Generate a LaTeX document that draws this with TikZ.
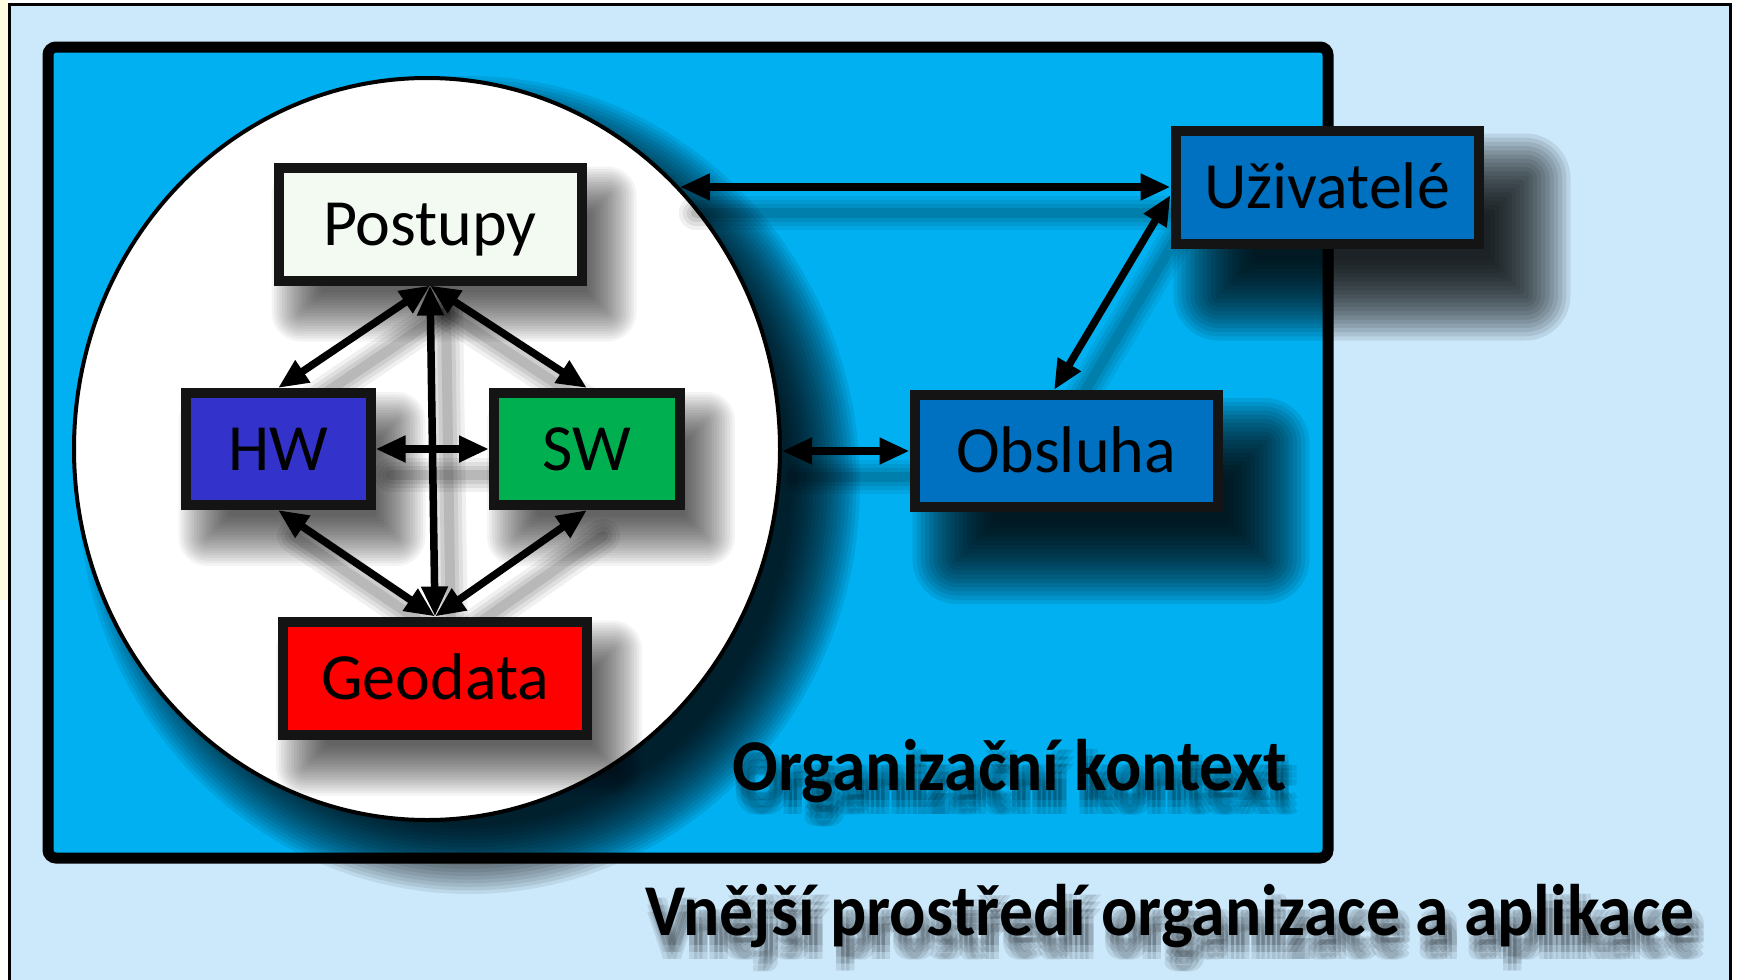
\documentclass[tikz,border=0pt]{standalone}
\usepackage{fontspec}
\setmainfont{Carlito}
\usetikzlibrary{arrows.meta,shapes.geometric,calc}
\definecolor{outerbg}{HTML}{CCE9FB}
\definecolor{ctxblue}{HTML}{00B0F0}
\definecolor{darkblue}{HTML}{0070C0}
\definecolor{hwblue}{HTML}{3333CC}
\definecolor{swgreen}{HTML}{00B050}
\definecolor{geored}{HTML}{FF0000}
\definecolor{postfill}{HTML}{F2FAF2}
\pgfdeclarelayer{bglayer}
\pgfdeclarelayer{ellshadow}
\pgfdeclarelayer{elllayer}
\pgfdeclarelayer{boxshadow}
\pgfsetlayers{bglayer,ellshadow,elllayer,boxshadow,main}
% soft shadow of a rectangular node: #1 node, #2 dx, #3 dy (down), #4 blur radius, #5 opacity per layer
\newcommand\myboxshade[5]{%
  \foreach \k in {0,...,19} {
    \pgfmathsetmacro\gg{#4*(1-\k/10)}
    \pgfmathsetmacro\xa{#2-\gg}
    \pgfmathsetmacro\ya{#3+\gg}
    \pgfmathsetmacro\xb{#2+\gg}
    \pgfmathsetmacro\yb{#3-\gg}
    \pgfmathsetmacro\rc{max(\gg,0)+3}
    \fill[black, opacity=#5, rounded corners=\rc pt] ($(#1.south west)+(\xa,\ya)$) rectangle ($(#1.north east)+(\xb,\yb)$);
  }%
}
% soft shadow of a connector
\newcommand\myarrowshade[2]{%
  \foreach \w/\o in {34/0.06,26/0.07,18/0.08,10/0.1} {
    \draw[black, line width=\w pt, opacity=\o, line cap=round, transform canvas={shift={(16pt,-26pt)}}] (#1) -- (#2);
  }%
}
\begin{document}
\begin{tikzpicture}[x=1pt,y=-1pt,
  box/.style={draw=black!92, line width=10pt, inner sep=0pt, text=black,
    font=\fontsize{66}{70}\selectfont, text height=42.5pt, text depth=0pt},
  biarrow/.style={{Triangle[length=30pt,width=25pt]}-{Triangle[length=30pt,width=25pt]}, line width=7.5pt, draw=black},
  bigtext/.style={font=\bfseries\fontsize{73}{73}\selectfont, inner sep=0pt, anchor=base},
]
\useasboundingbox (0,0) rectangle (1738,980);
\begin{pgfonlayer}{bglayer}
\clip (0,0) rectangle (1738,980);
\fill[white] (0,0) rectangle (1738,980);
\fill[yellow!12] (0,0) rectangle (8,600);
% outer environment
\draw[line width=3pt, fill=outerbg] (9,4) rectangle (1730,1010);
% organisational context
\draw[line width=11pt, rounded corners=8pt, fill=ctxblue] (48,47) rectangle (1328,858);
\end{pgfonlayer}
% ellipse
\begin{pgfonlayer}{elllayer}
\node[ellipse, draw=black, line width=4pt, fill=white, minimum width=706pt, minimum height=742pt, inner sep=0pt] (E) at (427,449) {};
\end{pgfonlayer}
\begin{pgfonlayer}{ellshadow}
\foreach \k in {0,...,19} {
  \pgfmathsetmacro\gg{36*(1-\k/10)}
  \pgfmathsetmacro\rx{355+\gg}
  \pgfmathsetmacro\ry{373+\gg}
  \fill[black, opacity=0.075] ($(E.center)+(42,36)$) ellipse [x radius=\rx pt, y radius=\ry pt];
}
\end{pgfonlayer}
% boxes
\node[box, fill=postfill, minimum width=303pt, minimum height=113pt] (P) at (430,224) {Postupy};
\node[box, fill=hwblue, minimum width=185pt, minimum height=112pt] (HW) at (278,449) {HW};
\node[box, fill=swgreen, minimum width=186pt, minimum height=112pt] (SW) at (587,449) {SW};
\node[box, fill=geored, minimum width=304pt, minimum height=113pt] (G) at (435,678) {Geodata};
\node[box, fill=darkblue, minimum width=303pt, minimum height=112pt] (O) at (1066,451) {Obsluha};
\node[box, fill=darkblue, minimum width=303pt, minimum height=113pt] (U) at (1327,187) {Uživatelé};
\coordinate (EU) at (U.west -| E.46);
\coordinate (EO) at (O.west -| E.east);
\coordinate (UD) at ([yshift=-8pt]U.west);
\coordinate (ON) at ([xshift=-12pt]O.north);
\begin{pgfonlayer}{boxshadow}
\myboxshade{P}{24}{30}{26}{0.042}
\myboxshade{HW}{24}{30}{26}{0.042}
\myboxshade{SW}{24}{30}{26}{0.042}
\myboxshade{G}{24}{30}{26}{0.042}
\myboxshade{O}{45}{50}{42}{0.085}
\myboxshade{U}{45}{50}{42}{0.085}
\myarrowshade{P.south}{HW.north}
\myarrowshade{P.south}{SW.north}
\myarrowshade{P.south}{G.north}
\myarrowshade{HW.east}{SW.west}
\myarrowshade{HW.south}{G.north}
\myarrowshade{SW.south}{G.north}
\myarrowshade{EO}{O.west}
\myarrowshade{EU}{U.west}
\myarrowshade{UD}{ON}
\end{pgfonlayer}
% arrows
\draw[biarrow] (P.south) -- (HW.north);
\draw[biarrow] (P.south) -- (SW.north);
\draw[biarrow] (P.south) -- (G.north);
\draw[biarrow] (HW.east) -- (SW.west);
\draw[biarrow] (HW.south) -- (G.north);
\draw[biarrow] (SW.south) -- (G.north);
\draw[biarrow] (EO) -- (O.west);
\draw[biarrow] (EU) -- (U.west);
\draw[biarrow] (UD) -- (ON);
% texts with soft shadows
\foreach \dx in {2,7,12} \foreach \dy in {10,17,24} {
  \node[bigtext, text=black, opacity=0.09] at ([xshift=\dx pt, yshift=-\dy pt]1010,790) {\scalebox{0.926}[1]{Organizační kontext}};
  \node[bigtext, text=black, opacity=0.09] at ([xshift=\dx pt, yshift=-\dy pt]1170,935) {\scalebox{0.927}[1]{Vnější prostředí organizace a aplikace}};
}
\node[bigtext, text=black] (ctx) at (1010,790) {\scalebox{0.926}[1]{Organizační kontext}};
\node[bigtext, text=black] (env) at (1170,935) {\scalebox{0.927}[1]{Vnější prostředí organizace a aplikace}};
\end{tikzpicture}
\end{document}
